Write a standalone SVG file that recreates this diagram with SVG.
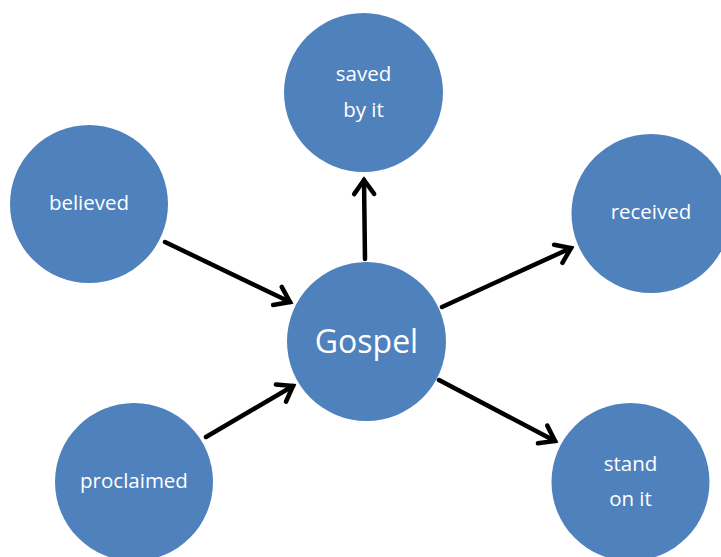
<svg xmlns="http://www.w3.org/2000/svg" width="721" height="557" viewBox="0 0 721 557">
<style>
.node circle{fill:#4F81BD;}
.node text{fill:#ffffff;font-family:"Open Sans","Liberation Sans",sans-serif;font-size:20.5px;text-anchor:middle;}
.node text.big{font-size:32px;}
.conn line{stroke:#000;stroke-width:4.5;stroke-linecap:round;marker-end:url(#ah);}
</style>
<defs>
<marker id="ah" markerUnits="userSpaceOnUse" viewBox="-20 -14 24 28" markerWidth="24" markerHeight="28" refX="0" refY="0" orient="auto">
<path d="M-14,-10 L0,0 L-14,10" fill="none" stroke="#000" stroke-width="4.5" stroke-linecap="round" stroke-linejoin="miter"/>
</marker>
</defs>
<rect width="721" height="557" fill="#ffffff"/>
<g class="conn" id="connectors">
<line x1="165" y1="242" x2="290" y2="302"/>
<line x1="206" y1="437" x2="293" y2="386"/>
<line x1="365" y1="259" x2="364" y2="180"/>
<line x1="442" y1="307" x2="571" y2="248"/>
<line x1="439" y1="380" x2="555" y2="441"/>
</g>
<g class="node" id="saved"><circle cx="363.5" cy="92.5" r="79.5"/><text x="363.5" y="81">saved</text><text x="363.5" y="117">by it</text></g>
<g class="node" id="believed"><circle cx="89" cy="204" r="79"/><text x="89" y="210">believed</text></g>
<g class="node" id="received"><circle cx="651" cy="213.5" r="79.5"/><text x="651" y="219">received</text></g>
<g class="node" id="gospel"><circle cx="366.5" cy="341.5" r="79.5"/><text class="big" x="366.5" y="353">Gospel</text></g>
<g class="node" id="proclaimed"><circle cx="134" cy="482" r="79"/><text x="134" y="488">proclaimed</text></g>
<g class="node" id="stand"><circle cx="630.5" cy="482" r="79"/><text x="630.5" y="471">stand</text><text x="630.5" y="506">on it</text></g>
</svg>
